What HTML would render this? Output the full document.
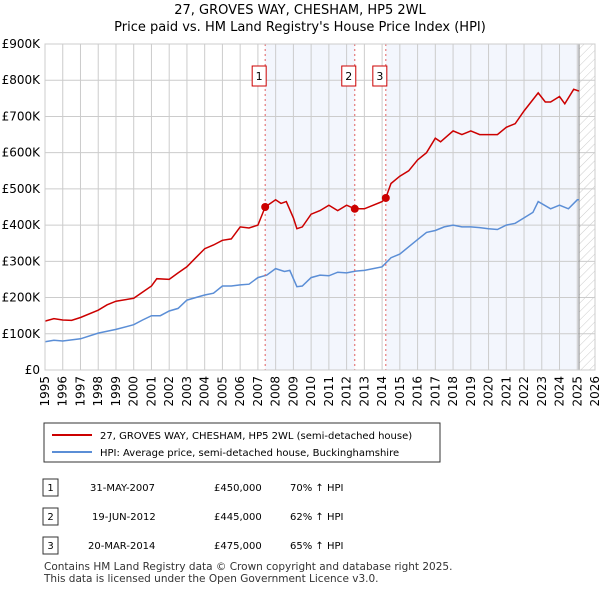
<!DOCTYPE html>
<html><head><meta charset="utf-8"><style>
body{margin:0;background:#fff;font-family:"DejaVu Sans",sans-serif;}
</style></head><body>
<svg width="600" height="590" xmlns="http://www.w3.org/2000/svg" font-family="DejaVu Sans, sans-serif">
<text x="300" y="14" font-size="13" text-anchor="middle">27, GROVES WAY, CHESHAM, HP5 2WL</text>
<text x="300" y="31" font-size="13" text-anchor="middle">Price paid vs. HM Land Registry's House Price Index (HPI)</text>
<defs><pattern id="hatch" width="6" height="6" patternUnits="userSpaceOnUse" patternTransform="rotate(45)"><line x1="0" y1="0" x2="0" y2="6" stroke="#ccc" stroke-width="1"/></pattern></defs>
<g id="plot"></g>
<g id="legend">
<rect x="44" y="423" width="396" height="39" fill="#fff" stroke="#333"/>
<line x1="52" y1="435" x2="92" y2="435" stroke="#cc0000" stroke-width="2"/>
<text x="100" y="439" font-size="10">27, GROVES WAY, CHESHAM, HP5 2WL (semi-detached house)</text>
<line x1="52" y1="452" x2="92" y2="452" stroke="#5b8ed6" stroke-width="2"/>
<text x="100" y="456" font-size="10">HPI: Average price, semi-detached house, Buckinghamshire</text>
</g>
<g font-size="10">
<rect x="43" y="479" width="15" height="17" fill="#fff" stroke="#333"/><text x="50.5" y="491" text-anchor="middle">1</text>
<text x="90" y="491">31-MAY-2007</text><text x="214" y="491">£450,000</text><text x="290" y="491">70% ↑ HPI</text>
<rect x="43" y="508" width="15" height="17" fill="#fff" stroke="#333"/><text x="50.5" y="520" text-anchor="middle">2</text>
<text x="92" y="520">19-JUN-2012</text><text x="214" y="520">£445,000</text><text x="290" y="520">62% ↑ HPI</text>
<rect x="43" y="537" width="15" height="17" fill="#fff" stroke="#333"/><text x="50.5" y="549" text-anchor="middle">3</text>
<text x="88" y="549">20-MAR-2014</text><text x="214" y="549">£475,000</text><text x="290" y="549">65% ↑ HPI</text>
</g>
<text x="44" y="570" font-size="10.5" fill="#333">Contains HM Land Registry data © Crown copyright and database right 2025.</text>
<text x="44" y="582" font-size="10.5" fill="#333">This data is licensed under the Open Government Licence v3.0.</text>
</svg>
<script>
const hpiYears=[1995,1995.5,1996,1997,1998,1999,2000,2000.5,2001,2001.5,2002,2002.5,2003,2004,2004.5,2005,2005.5,2006,2006.5,2007,2007.5,2008,2008.5,2008.8,2009.2,2009.5,2010,2010.5,2011,2011.5,2012,2012.5,2013,2014,2014.5,2015,2015.5,2016,2016.5,2017,2017.5,2018,2018.5,2019,2019.5,2020,2020.5,2021,2021.5,2022,2022.5,2022.8,2023.5,2024,2024.5,2025,2025.1];
const hpiValues=[78,82,80,86,102,112,125,138,150,150,163,170,193,207,212,232,232,235,237,255,262,280,272,275,230,232,255,262,260,270,268,273,275,285,310,320,340,360,380,385,395,400,395,395,393,390,388,400,405,420,435,465,445,455,445,470,470];
const priceYears=[1995,1995.5,1996,1996.5,1997,1998,1998.5,1999,2000,2000.5,2001,2001.3,2002,2002.5,2003,2003.5,2004,2004.5,2005,2005.5,2006,2006.5,2007,2007.41,2008,2008.3,2008.6,2009,2009.2,2009.5,2010,2010.5,2011,2011.5,2012,2012.46,2013,2014,2014.21,2014.5,2015,2015.5,2016,2016.5,2017,2017.3,2018,2018.5,2019,2019.5,2020,2020.5,2021,2021.5,2022,2022.8,2023.2,2023.5,2024,2024.3,2024.8,2025.1];
const priceValues=[135,142,138,137,145,165,180,190,198,215,232,252,250,268,285,310,335,345,358,362,395,392,400,450,470,460,465,420,390,395,430,440,455,440,455,445,445,465,475,515,535,550,580,600,640,630,660,650,660,650,650,650,670,680,715,765,740,740,755,735,775,770];
const saleLabels=["1","2","3"];
const saleYears=[2007.41,2012.46,2014.21];
const saleValues=[450,445,475];
const yTicks=[0,100,200,300,400,500,600,700,800,900];
const yTickLabels=["£0","£100K","£200K","£300K","£400K","£500K","£600K","£700K","£800K","£900K"];
const xTicks=[1995,1996,1997,1998,1999,2000,2001,2002,2003,2004,2005,2006,2007,2008,2009,2010,2011,2012,2013,2014,2015,2016,2017,2018,2019,2020,2021,2022,2023,2024,2025,2026];

const X0=45,X1=595,Y0=370,Y1=44;
const xs=y=>X0+(y-1995)/(2026-1995)*(X1-X0);
const ys=v=>Y0-v/900*(Y0-Y1);
const NS="http://www.w3.org/2000/svg";
const g=document.getElementById('plot');
function mk(t,a){const e=document.createElementNS(NS,t);for(const k in a)e.setAttribute(k,a[k]);g.appendChild(e);return e;}
let e;
e=mk('rect',{x:xs(saleYears[0]),y:Y1,width:xs(saleYears[1])-xs(saleYears[0]),height:Y0-Y1,fill:'#f3f6fd'});


e=mk('rect',{x:xs(saleYears[2]),y:Y1,width:xs(2025.1)-xs(saleYears[2]),height:Y0-Y1,fill:'#f3f6fd'});


e=mk('rect',{x:xs(2025.1),y:Y1,width:X1-xs(2025.1),height:Y0-Y1,fill:'url(#hatch)'});


yTicks.forEach((v,i)=>{
 e=mk('line',{x1:X0,x2:X1,y1:ys(v),y2:ys(v),stroke:'#ccc'});
 
 
 e=mk('text',{x:40,y:ys(v)+4,'font-size':12,'text-anchor':'end'});e.textContent=yTickLabels[i];
 
 
});
xTicks.forEach(t=>{
 e=mk('line',{x1:xs(t),x2:xs(t),y1:Y1,y2:Y0,stroke:'#ccc'});
 
 
 e=mk('text',{x:0,y:0,'font-size':12,'text-anchor':'end',transform:`translate(${xs(t)+4},${Y0+6}) rotate(-90)`});e.textContent=t;
 
 
});
e=mk('line',{x1:xs(2025.1),x2:xs(2025.1),y1:Y1,y2:Y0,stroke:'#888'});


function path(xa,va,col,name){
 const d=xa.map((x,i)=>(i?'L':'M')+xs(x).toFixed(1)+','+ys(va[i]).toFixed(1)).join('');
 const p=mk('path',{d:d,fill:'none',stroke:col,'stroke-width':1.5});
 
 
}
path(hpiYears,hpiValues,'#5b8ed6','hpi-line');
path(priceYears,priceValues,'#cc0000','price-line');
saleYears.forEach((sy,i)=>{
 e=mk('line',{x1:xs(sy),x2:xs(sy),y1:Y1,y2:Y0,stroke:'#e06060','stroke-dasharray':'2,3'});
 
 
 e=mk('circle',{cx:xs(sy),cy:ys(saleValues[i]),r:4,fill:'#cc0000'});
 
 
 const bx=xs(sy)-13;
 e=mk('rect',{x:bx,y:66,width:14,height:20,fill:'#fff',stroke:'#cc0000'});
 
 
 e=mk('text',{x:bx+7,y:80,'font-size':11,'text-anchor':'middle'});e.textContent=saleLabels[i];
 
 
});
e=mk('rect',{x:X0,y:Y1,width:X1-X0,height:Y0-Y1,fill:'none',stroke:'#ccc'});


</script>
</body></html>
